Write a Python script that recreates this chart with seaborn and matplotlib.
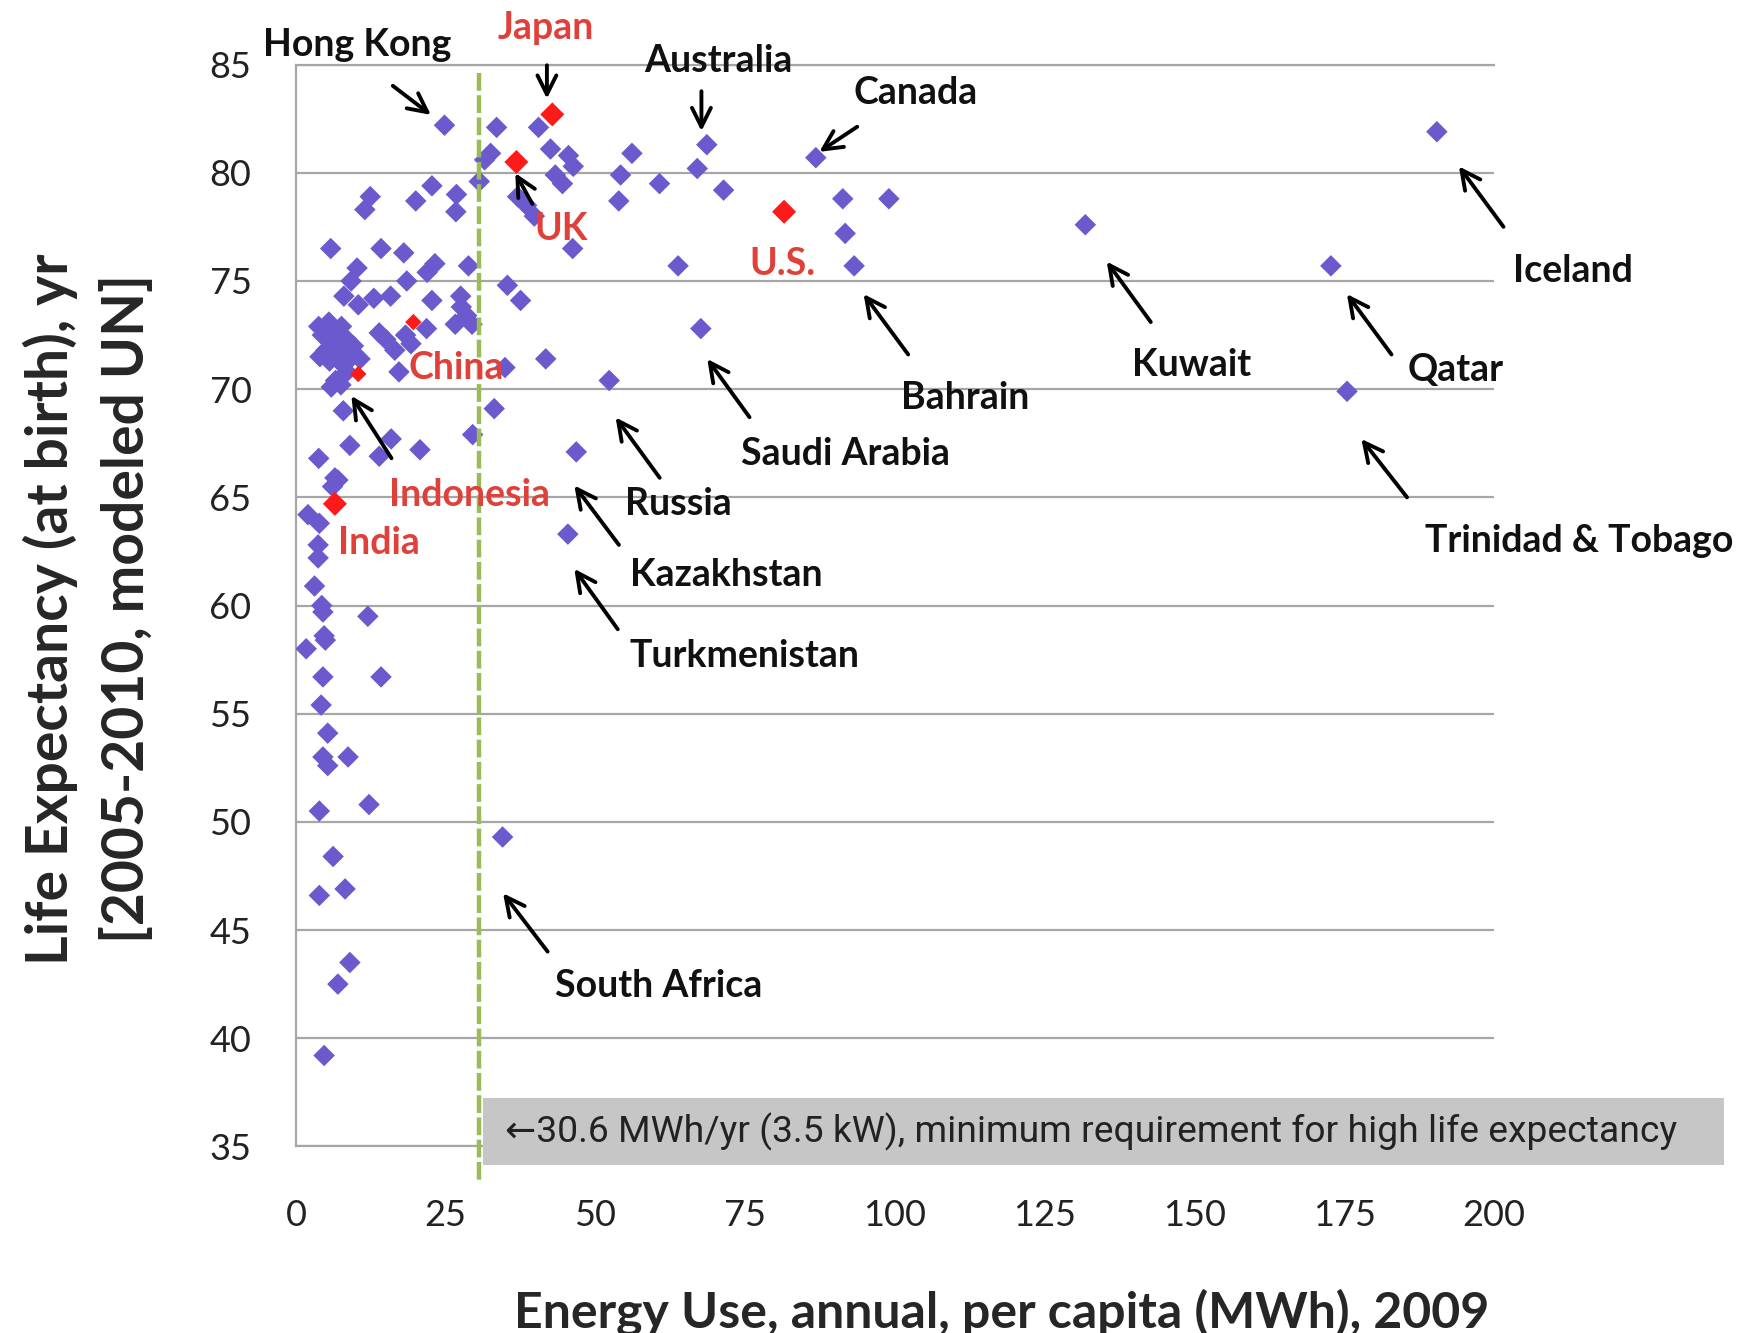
import pandas as pd
import numpy as np
import seaborn as sns
import matplotlib.pyplot as plt
from matplotlib.patches import Rectangle

# Energy use per capita (MWh) and life expectancy (yr)
energy = [24.8, 33.5, 40.5, 32.5, 31.5, 30.6, 42.5, 45.5, 46.3, 43.3, 44.5, 37.0, 38.5, 39.8,
          46.2, 56.1, 54.2, 60.7, 53.9, 68.6, 67.0, 71.4, 63.8, 86.8, 91.3, 99.0, 91.7, 93.2,
          67.6, 52.3, 46.8, 45.4, 131.8, 190.5, 172.8, 175.5, 34.5, 35.3, 37.5, 41.7, 33.1,
          29.5, 34.9,
          22.7, 26.8, 20.0, 26.7, 12.4, 11.5, 5.8, 14.2, 18.0, 23.2, 21.9, 28.8, 10.2, 9.2,
          18.5, 8.0, 10.4, 13.0, 15.8, 22.7, 27.5, 27.6, 28.5, 26.6, 29.4, 21.8, 13.9, 15.0,
          18.3, 19.2, 16.5, 17.2,
          5.5, 7.6, 4.4, 6.7, 8.5, 9.6, 5.0, 7.3, 10.7, 5.6, 7.9, 9.0, 6.6, 5.9, 8.2, 6.2,
          4.0, 8.5, 7.5, 3.8,
          7.9, 9.0, 15.9, 13.9, 20.7, 3.8, 6.5, 6.1, 7.0, 2.0, 3.9, 3.7, 3.7, 3.1, 4.3, 4.5,
          12.0, 4.7, 4.9, 1.7, 4.5, 14.2, 4.2, 5.3, 4.5, 5.3, 8.7, 3.9, 12.2, 6.2, 3.9, 8.2,
          9.0, 7.0, 4.7]
life = [82.2, 82.1, 82.1, 80.9, 80.6, 79.6, 81.1, 80.8, 80.3, 79.9, 79.5, 78.9, 78.5, 78.0,
        76.5, 80.9, 79.9, 79.5, 78.7, 81.3, 80.2, 79.2, 75.7, 80.7, 78.8, 78.8, 77.2, 75.7,
        72.8, 70.4, 67.1, 63.3, 77.6, 81.9, 75.7, 69.9, 49.3, 74.8, 74.1, 71.4, 69.1,
        67.9, 71.0,
        79.4, 79.0, 78.7, 78.2, 78.9, 78.3, 76.5, 76.5, 76.3, 75.8, 75.4, 75.7, 75.6, 75.0,
        75.0, 74.3, 73.9, 74.2, 74.3, 74.1, 74.3, 73.8, 73.4, 73.0, 73.0, 72.8, 72.6, 72.3,
        72.5, 72.1, 71.8, 70.8,
        73.1, 72.9, 72.5, 72.5, 72.3, 72.0, 71.8, 71.6, 71.4, 71.3, 71.1, 71.4, 70.4, 70.1,
        72.0, 72.2, 71.5, 70.8, 70.2, 72.9,
        69.0, 67.4, 67.7, 66.9, 67.2, 66.8, 65.9, 65.5, 65.8, 64.2, 63.8, 62.8, 62.2, 60.9,
        60.0, 59.7, 59.5, 58.6, 58.4, 58.0, 56.7, 56.7, 55.4, 54.1, 53.0, 52.6, 53.0, 50.5,
        50.8, 48.4, 46.6, 46.9, 43.5, 42.5, 39.2]

# highlighted countries (red)
hl_names = ['Japan', 'UK', 'U.S.', 'China', 'Indonesia', 'India']
hl_energy = [42.8, 36.8, 81.5, 19.6, 10.4, 6.5]
hl_life = [82.7, 80.5, 78.2, 73.1, 70.7, 64.7]
hl_big = [True, True, True, False, False, True]

threshold = 30.6
box_text = '\u219030.6 MWh/yr (3.5 kW), minimum requirement for high life expectancy'

# labels: (text, color, text pos, arrow tail, arrow head)
labels = [
    ('Hong Kong', 'k', (10.3, 85.9), (15.8, 84.1), (22.9, 82.6)),
    ('Japan', 'r', (41.8, 86.7), (41.9, 85.1), (41.9, 83.3)),
    ('Australia', 'k', (70.5, 85.15), (67.7, 83.9), (67.7, 81.8)),
    ('Canada', 'k', (103.5, 83.7), (94.1, 82.2), (87.0, 80.9)),
    ('UK', 'r', (44.2, 77.4), (39.7, 78.45), (36.4, 80.1)),
    ('U.S.', 'r', (81.3, 75.8), None, None),
    ('China', 'r', (26.8, 71.0), None, None),
    ('Indonesia', 'r', (28.9, 65.1), (16.2, 66.7), (9.0, 69.8)),
    ('India', 'r', (13.8, 62.9), None, None),
    ('Iceland', 'k', (213.2, 75.45), (201.9, 77.4), (193.9, 80.4)),
    ('Kuwait', 'k', (149.5, 71.1), (143.0, 73.0), (135.1, 76.0)),
    ('Bahrain', 'k', (111.8, 69.6), (102.5, 71.5), (94.5, 74.5)),
    ('Qatar', 'k', (193.7, 70.9), (183.2, 71.5), (175.2, 74.5)),
    ('Saudi Arabia', 'k', (91.7, 67.0), (76.0, 68.6), (68.4, 71.5)),
    ('Russia', 'k', (63.9, 64.7), (61.0, 65.8), (53.1, 68.8)),
    ('Kazakhstan', 'k', (71.8, 61.4), (54.2, 62.7), (46.2, 65.65)),
    ('Turkmenistan', 'k', (74.9, 57.65), (54.0, 58.8), (46.2, 61.8)),
    ('Trinidad & Tobago', 'k', (214.3, 63.0), (185.8, 64.9), (177.6, 67.8)),
    ('South Africa', 'k', (60.6, 42.4), (42.3, 43.9), (34.3, 46.8)),
]

df = pd.DataFrame({'energy': energy, 'life': life})
df_hl = pd.DataFrame({'energy': hl_energy, 'life': hl_life, 'big': hl_big})

sns.set_theme(style='white')
plt.rcParams['font.family'] = ['Lato', 'DejaVu Sans']

fig = plt.figure(figsize=(17.41, 13.33), dpi=100)
ax = fig.add_axes([0.170, 0.140, 0.688, 0.8115])

sns.scatterplot(data=df, x='energy', y='life', marker='D', s=120, color='#6a5acd',
                edgecolor='none', ax=ax, zorder=3)
sns.scatterplot(data=df_hl[df_hl['big']], x='energy', y='life', marker='D', s=150,
                color='#ff1a1a', edgecolor='none', ax=ax, zorder=4)
sns.scatterplot(data=df_hl[~df_hl['big']], x='energy', y='life', marker='D', s=70,
                color='#ff1a1a', edgecolor='none', ax=ax, zorder=4)

# threshold line
ax.plot([threshold, threshold], [84.6, 33.4], color='#9bbb59', lw=3.2,
        linestyle=(0, (4, 1)), clip_on=False, zorder=5)

for text, col, tpos, tail, head in labels:
    c = '#e0403a' if col == 'r' else '#111111'
    ax.text(tpos[0], tpos[1], text, color=c, fontsize=27, fontweight='bold',
            ha='center', va='center', zorder=6)
    if tail is not None:
        ax.annotate('', xy=head, xytext=tail,
                    arrowprops=dict(arrowstyle='->', color='black', lw=2.8,
                                    mutation_scale=34), zorder=6)

ax.set_xlim(0, 200)
ax.set_ylim(35, 85)
ax.set_xticks(np.arange(0, 201, 25))
ax.set_yticks(np.arange(35, 86, 5))
ax.yaxis.grid(True, color='#a6a6a6', lw=1.6)
ax.xaxis.grid(False)
for side in ['left', 'bottom', 'top']:
    ax.spines[side].set_color('#a6a6a6')
    ax.spines[side].set_linewidth(1.6)
ax.spines['right'].set_visible(False)
ax.tick_params(axis='x', length=0, pad=38, labelsize=26, colors='#222222')
ax.tick_params(axis='y', length=0, pad=32, labelsize=26, colors='#222222')

ax.set_xlabel('Energy Use, annual, per capita (MWh), 2009', fontsize=36, fontweight='bold')
ax.set_ylabel('Life Expectancy (at birth), yr\n[2005-2010, modeled UN]', fontsize=41,
              fontweight='bold', multialignment='center', linespacing=1.5)
ax.xaxis.set_label_coords(0.589, -0.153)
ax.xaxis.label.set_va('center')
ax.yaxis.set_label_coords(-0.173, 0.497)
ax.yaxis.label.set_va('center')

# grey note box
fig.patches.append(Rectangle((0.2776, 0.126), 0.7124, 0.050, transform=fig.transFigure,
                             facecolor='#c6c6c6', edgecolor='none', zorder=0))
fig.text(0.290, 0.151, box_text, fontsize=26.8, color='#222222', va='center', ha='left',
         family=['Roboto', 'DejaVu Sans'])

plt.savefig('out.png', dpi=100)
